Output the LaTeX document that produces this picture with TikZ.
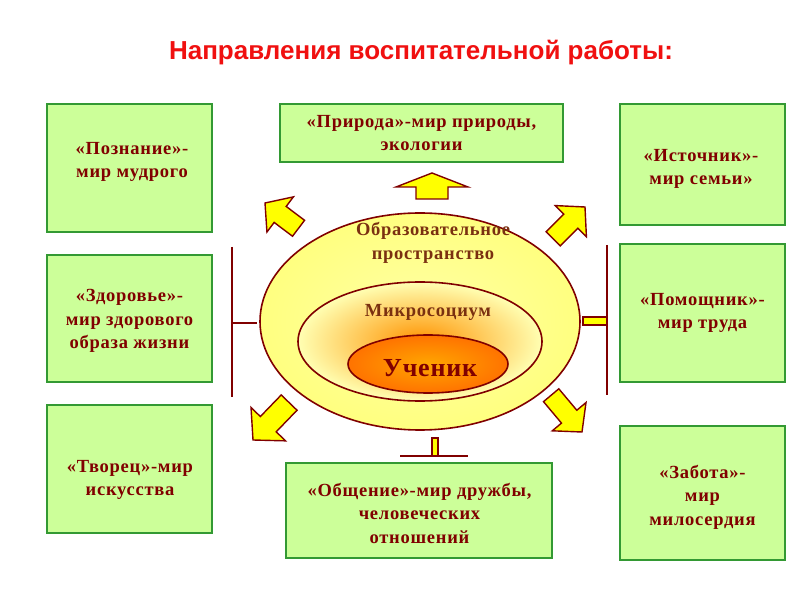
\documentclass[tikz,border=0pt]{standalone}
\usepackage{fontspec}
\setmainfont{Liberation Serif}
\newfontfamily\titlefont{Liberation Sans}
\newfontfamily\spacedserif[LetterSpace=4]{Liberation Serif}
\newfontfamily\bigserif[LetterSpace=3]{Liberation Serif}
\usetikzlibrary{shapes.geometric}
\definecolor{boxfill}{HTML}{CCFF99}
\definecolor{boxline}{HTML}{339933}
\definecolor{txtred}{HTML}{800000}
\definecolor{titlered}{HTML}{F01010}
\definecolor{arrfill}{HTML}{FFFF00}
\definecolor{arrline}{HTML}{800000}
\definecolor{ellbrown}{HTML}{7A3010}
\newcommand\blockarr[7]{% tipx, tipy, angle, length, headlen, headhalf, shafthalf
  \draw[arrshape, shift={(#1,#2)}, rotate=#3]
    (0,0) -- (-#5,#6) -- (-#5,#7) -- (-#4,#7) -- (-#4,-#7) -- (-#5,-#7) -- (-#5,-#6) -- cycle;}
\begin{document}
\begin{tikzpicture}[x=1pt,y=1pt,
  box/.style={draw=boxline, line width=2.5pt, fill=boxfill, inner sep=0pt},
  boxtext/.style={text=txtred, font=\spacedserif\bfseries\fontsize{18.5}{23.5}\selectfont, align=center, inner sep=0pt},
  elltext/.style={text=ellbrown, font=\spacedserif\bfseries\fontsize{18.5}{24}\selectfont, align=center, inner sep=0pt},
  ell/.style={ellipse, draw=arrline, line width=1.6pt, inner sep=0pt},
  arrshape/.style={draw=arrline, fill=arrfill, line width=1.4pt, line join=miter},
  edgeline/.style={draw=arrline, line width=2.6pt},
  stub/.style={draw=arrline, fill=arrfill, line width=1.2pt}]
\useasboundingbox[fill=white] (0,0) rectangle (800,600);

% title
\node[font=\titlefont\bfseries\fontsize{26}{30}\selectfont, text=titlered] (title) at (421,547) {Направления воспитательной работы:};

% boxes
\node[box, minimum width=165pt, minimum height=128pt] (b1) at (129.5,432) {};
\node[box, minimum width=165pt, minimum height=127pt] (b2) at (129.5,281.5) {};
\node[box, minimum width=165pt, minimum height=128pt] (b3) at (129.5,131) {};
\node[box, minimum width=283pt, minimum height=58pt] (b4) at (421.5,467) {};
\node[box, minimum width=266pt, minimum height=95pt] (b5) at (419,89.5) {};
\node[box, minimum width=165pt, minimum height=121pt] (b6) at (702.5,435.5) {};
\node[box, minimum width=165pt, minimum height=138pt] (b7) at (702.5,287) {};
\node[box, minimum width=165pt, minimum height=134pt] (b8) at (702.5,107) {};

\node[boxtext] (t1) at (132,438) {«Познание»-\\мир мудрого};
\node[boxtext] (t2) at (129.5,279) {«Здоровье»-\\мир здорового\\образа жизни};
\node[boxtext] (t3) at (130,120) {«Творец»-мир\\искусства};
\node[boxtext] (t4) at (421.5,467) {«Природа»-мир природы,\\экологии};
\node[boxtext] (t5) at (419.5,87) {«Общение»-мир дружбы,\\человеческих\\отношений};
\node[boxtext] (t6) at (701,431) {«Источник»-\\мир семьи»};
\node[boxtext] (t7) at (702.5,287) {«Помощник»-\\мир труда};
\node[boxtext] (t8) at (702.5,103) {«Забота»-\\мир\\милосердия};

% edge-on arrows
\draw[edgeline] (232,353) -- (232,203);
\draw[edgeline] (232,277) -- (257,277);
\draw[edgeline] (607,355) -- (607,205);
\draw[stub] (583,275) rectangle (607,283);
\draw[edgeline] (400,144) -- (468,144);
\draw[stub] (432,144) rectangle (438,162);

% ellipses
\node[ell, minimum width=320pt, minimum height=217pt, inner color=yellow!35!white, outer color=yellow!50!white] (outer) at (420,278.5) {};
\node[ell, minimum width=244pt, minimum height=119pt, inner color=orange!85!yellow, outer color=yellow!30!white] (mid) at (420,258.5) {};
\node[ell, minimum width=160pt, minimum height=58pt, inner color=orange!70!yellow, outer color=orange!90!red] (inner) at (428,236) {};

\node[elltext] (eo) at (433,357) {Образовательное\\пространство};
\node[elltext] (em) at (428,288) {Микросоциум};
\node[text=txtred, font=\bigserif\bfseries\fontsize{26}{30}\selectfont, inner sep=0pt] (ei) at (430,232) {Ученик};

% block arrows
\blockarr{432}{427}{90}{26}{14}{36}{16}
\blockarr{265}{397}{143}{42}{19}{22}{10}
\blockarr{585}{393}{45}{45}{20}{22}{10}
\blockarr{253}{160}{226}{52}{22}{24}{11}
\blockarr{582}{168}{310}{48}{20}{22}{10}
\end{tikzpicture}
\end{document}
